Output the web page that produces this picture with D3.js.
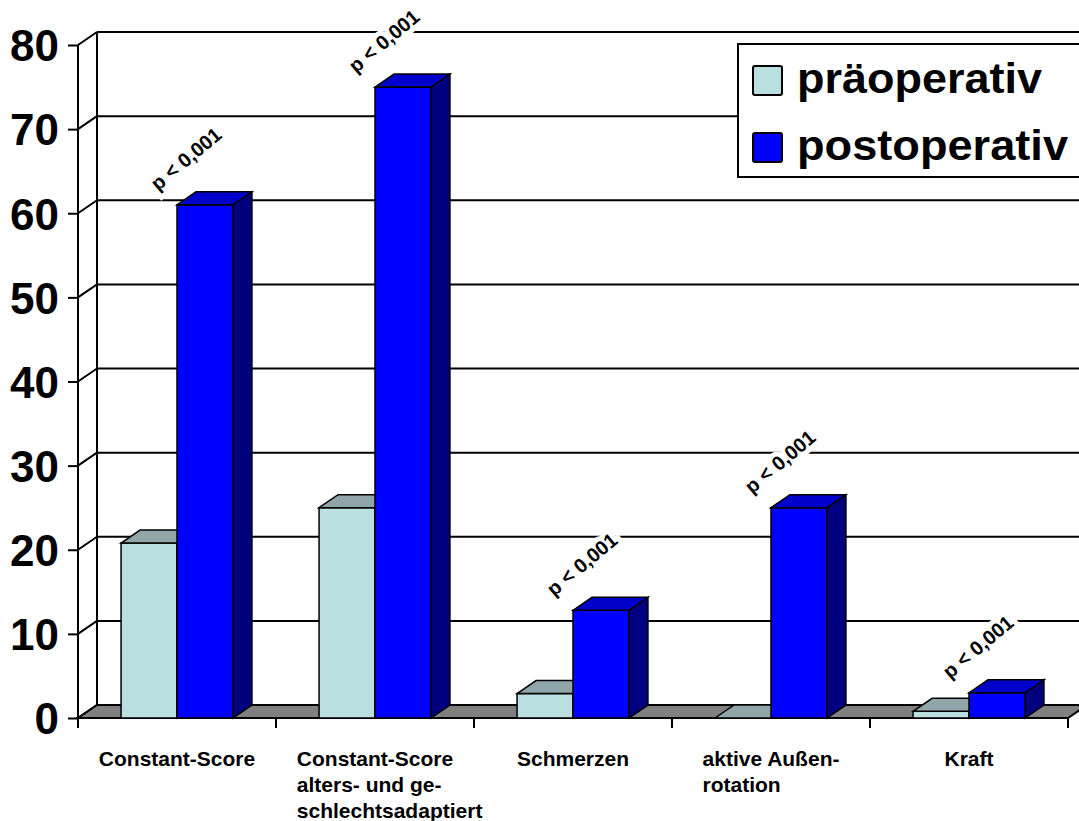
<!DOCTYPE html>
<html>
<head>
<meta charset="utf-8">
<script src="https://cdn.jsdelivr.net/npm/d3@7"></script>
<style>
  body { margin: 0; background: #fff; }
  text { font-family: 'Liberation Sans', Arial, sans-serif; font-weight: bold; }
</style>
</head>
<body>
<svg width="1079" height="821"></svg>
<script>
const categories = ['Constant-Score', 'Constant-Score alters- und geschlechtsadaptiert', 'Schmerzen', 'aktive Außenrotation', 'Kraft']
const categoryLines = [
  ['Constant-Score'],
  ['Constant-Score', 'alters- und ge-', 'schlechtsadaptiert'],
  ['Schmerzen'],
  ['aktive Außen-', 'rotation'],
  ['Kraft']
]
const praeoperativ = [20.8, 25, 2.9, 0, 0.8]
const postoperativ = [61, 75, 12.8, 25, 3]
const pLabels = ['p < 0,001', 'p < 0,001', 'p < 0,001', 'p < 0,001', 'p < 0,001']
const yTicks = [0, 10, 20, 30, 40, 50, 60, 70, 80]
const seriesNames = ['präoperativ', 'postoperativ']

const svg = d3.select('svg')
const width = +svg.attr('width')

// 3d depth offset of the back wall
const dx = 19
const dy = -13

const x = d3.scaleBand()
  .domain(categories)
  .range([78, 1068])

const xSub = d3.scaleBand()
  .domain(['pre', 'post'])
  .range([0, x.bandwidth()])
  .paddingOuter(0.77)

const y = d3.scaleLinear()
  .domain([0, 80])
  .range([718, 45])

const colors = {
  pre: { front: '#b9dfe1', top: '#8fa5a7', side: '#7a9496' },
  post: { front: '#0000ff', top: '#0000cc', side: '#000080' }
}

svg.append('rect').attr('width', width).attr('height', 821).attr('fill', '#fff')

const x0 = x.range()[0]
const x1 = x.range()[1]

// back wall gridlines
svg.append('g').selectAll('line').data(yTicks)
  .enter().append('line')
  .attr('x1', x0 + dx).attr('x2', x1 + dx + 20)
  .attr('y1', d => y(d) + dy).attr('y2', d => y(d) + dy)
  .attr('stroke', '#000').attr('stroke-width', 2)

// left wall
svg.append('line')
  .attr('x1', x0 + dx).attr('x2', x0 + dx)
  .attr('y1', y(80) + dy).attr('y2', y(0) + dy)
  .attr('stroke', '#000').attr('stroke-width', 2)

svg.append('g').selectAll('line').data(yTicks)
  .enter().append('line')
  .attr('x1', x0).attr('x2', x0 + dx)
  .attr('y1', d => y(d)).attr('y2', d => y(d) + dy)
  .attr('stroke', '#000').attr('stroke-width', 2)

// floor
svg.append('path')
  .attr('d', `M${x0},${y(0)} L${x1},${y(0)} L${x1 + dx},${y(0) + dy} L${x0 + dx},${y(0) + dy} Z`)
  .attr('fill', '#808080')
  .attr('stroke', '#000').attr('stroke-width', 2)

// front y axis
const yAxis = svg.append('g')
  .attr('transform', `translate(${x0},0)`)
  .call(d3.axisLeft(y).tickValues(yTicks).tickSize(10).tickPadding(9))
yAxis.select('.domain').remove()
yAxis.selectAll('.tick line').attr('stroke', '#000').attr('stroke-width', 2)
yAxis.selectAll('.tick text')
  .attr('font-size', 44)
  .attr('font-family', "'Liberation Sans', Arial, sans-serif")
  .attr('font-weight', 'bold')
  .attr('fill', '#000')
  .attr('dy', '0.36em')

svg.append('line')
  .attr('x1', x0).attr('x2', x0)
  .attr('y1', y(80)).attr('y2', y(0) + 10)
  .attr('stroke', '#000').attr('stroke-width', 2)

// x axis line and category ticks
svg.append('line')
  .attr('x1', x0 - 2).attr('x2', x1)
  .attr('y1', y(0)).attr('y2', y(0))
  .attr('stroke', '#000').attr('stroke-width', 2)

const boundaries = categories.map(c => x(c)).concat([x1])
svg.append('g').selectAll('line').data(boundaries)
  .enter().append('line')
  .attr('x1', d => d).attr('x2', d => d)
  .attr('y1', y(0)).attr('y2', y(0) + 10)
  .attr('stroke', '#000').attr('stroke-width', 2)

// bars
const bars = []
categories.forEach((c, i) => {
  bars.push({ cat: c, key: 'pre', value: praeoperativ[i] })
  bars.push({ cat: c, key: 'post', value: postoperativ[i] })
})

const w = xSub.bandwidth()
const barG = svg.append('g')
  .selectAll('g').data(bars)
  .enter().append('g')

barG.each(function (d) {
  const g = d3.select(this)
  const bx = x(d.cat) + xSub(d.key)
  const by = y(d.value)
  const b0 = y(0)
  const col = colors[d.key]
  if (d.value > 0) {
    g.append('rect')
      .attr('x', bx).attr('y', by)
      .attr('width', w).attr('height', b0 - by)
      .attr('fill', col.front)
      .attr('stroke', '#000').attr('stroke-width', 1.5)
    g.append('path')
      .attr('d', `M${bx + w},${by} L${bx + w + dx},${by + dy} L${bx + w + dx},${b0 + dy} L${bx + w},${b0} Z`)
      .attr('fill', col.side)
      .attr('stroke', '#000').attr('stroke-width', 1.5)
  }
  g.append('path')
    .attr('d', `M${bx},${by} L${bx + dx},${by + dy} L${bx + w + dx},${by + dy} L${bx + w},${by} Z`)
    .attr('fill', col.top)
    .attr('stroke', '#000').attr('stroke-width', 1.5)
})

// p-value annotations
svg.append('g').selectAll('text').data(categories)
  .enter().append('text')
  .attr('transform', (d, i) => `translate(${x(d) + xSub('post') + 9},${y(postoperativ[i]) - 46}) rotate(-40)`)
  .attr('text-anchor', 'middle')
  .attr('dy', '0.35em')
  .attr('font-size', 20)
  .attr('fill', '#000')
  .attr('stroke', '#fff')
  .attr('stroke-width', 10)
  .attr('paint-order', 'stroke')
  .text((d, i) => pLabels[i])

// category labels
const labelG = svg.append('g').selectAll('g').data(categories)
  .enter().append('g')

labelG.each(function (c, i) {
  const g = d3.select(this)
  const lines = categoryLines[i]
  const t = g.append('text')
    .attr('font-size', 21)
    .attr('fill', '#000')
  lines.forEach((l, j) => {
    t.append('tspan').attr('y', 766 + j * 26).text(l)
  })
  const firstW = t.select('tspan').node().getComputedTextLength()
  const left = x(c) + x.bandwidth() / 2 - firstW / 2
  t.selectAll('tspan').attr('x', left)
})

// legend
const legend = svg.append('g')
legend.append('rect')
  .attr('x', 738).attr('y', 44)
  .attr('width', 345).attr('height', 133)
  .attr('fill', '#fff')
  .attr('stroke', '#000').attr('stroke-width', 2)

const legendItems = legend.selectAll('g').data(seriesNames)
  .enter().append('g')
  .attr('transform', (d, i) => `translate(0,${i * 67})`)

legendItems.append('rect')
  .attr('x', 753).attr('y', 66)
  .attr('width', 29).attr('height', 29)
  .attr('rx', 2)
  .attr('fill', (d, i) => i === 0 ? colors.pre.front : colors.post.front)
  .attr('stroke', '#000').attr('stroke-width', 2)

legendItems.append('text')
  .attr('x', 797).attr('y', 93)
  .attr('font-size', 43)
  .attr('fill', '#000')
  .attr('textLength', (d, i) => i === 0 ? 245 : 271)
  .attr('lengthAdjust', 'spacingAndGlyphs')
  .text(d => d)
</script>
</body>
</html>
